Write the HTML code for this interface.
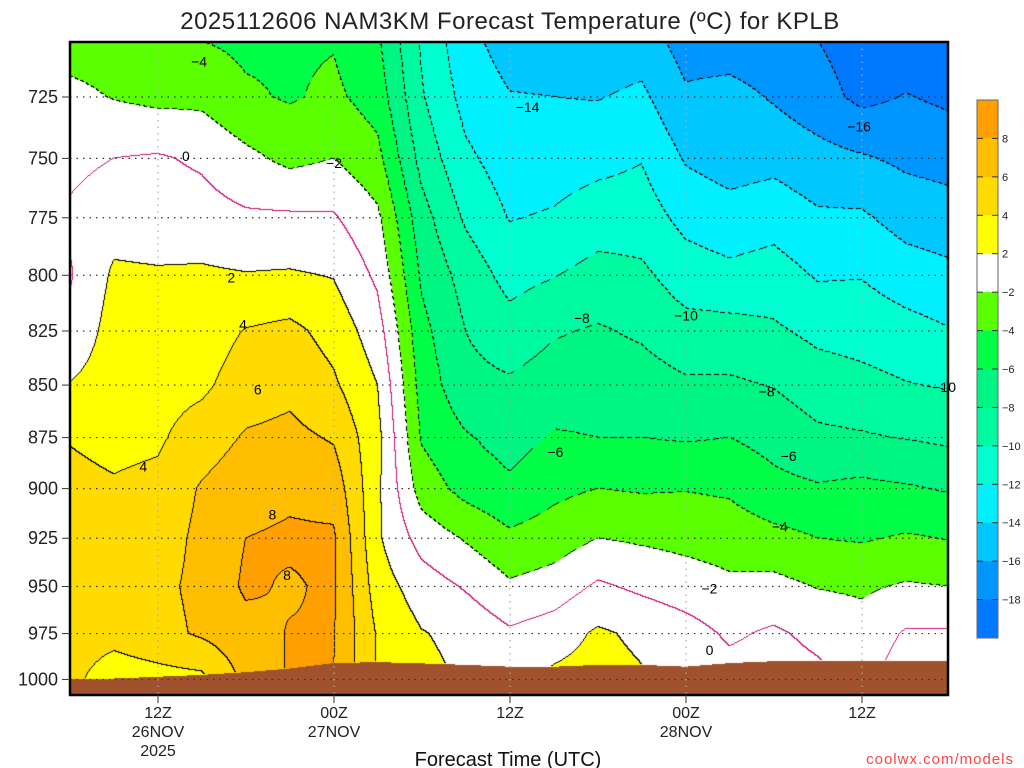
<!DOCTYPE html>
<html><head><meta charset="utf-8">
<style>
html,body{margin:0;padding:0;background:#fff;}
#wrap{position:relative;width:1024px;height:768px;overflow:hidden;font-family:"Liberation Sans",sans-serif;}
#plot{position:absolute;left:70px;top:42px;}
svg{position:absolute;left:0;top:0;}
</style></head>
<body>
<div id="wrap">
<canvas id="plot" width="878" height="653"></canvas>
<svg id="ov" width="1024" height="768"></svg>
</div>
<script>
// ---- data ----
const hours = [0,3,6,9,12,15,18,21,24,27,30,33,36,39,42,45,48,51,54,57,60];
const levels = [700,725,750,775,800,825,850,875,900,925,950,975,1000];
const t700 = [-3,-3,-3.3,-4.2,-4.5,-4.3,-4.2,-5.8,-10.3,-13.5,-15,-15.2,-15.4,-15.2,-17,-17.3,-17.5,-18.1,-19,-19.5,-19.8];
const t725 = [-1.5,-2.1,-2.5,-2.5,-3.7,-4.2,-3.6,-4.9,-9.8,-12.7,-13.9,-14,-14.1,-13.6,-15.7,-15.3,-16.2,-17.2,-18.5,-17.9,-18.4];
const t750 = [-0.5,0,0.2,-0.3,-1.5,-2.5,-2,-3.4,-8.7,-11.6,-13,-12.9,-12.6,-12.1,-14.2,-14.9,-14.6,-15.3,-15.8,-16.4,-16.7];
const t775 = [0.3,1.2,1,0.8,0.3,0.3,0.2,-1.6,-7.2,-10.3,-12.1,-11.8,-11,-11,-12.6,-13.2,-12.8,-13.7,-13.7,-14.8,-15.2];
const t800 = [-0.2,2.3,2.2,2.3,2.1,2.2,1.9,-0.4,-6.3,-8.8,-10.7,-10.1,-9.3,-9.6,-11,-11.5,-11.1,-12.2,-12.1,-13,-13.5];
const t825 = [0.5,2.8,3,3,4.1,4.5,3.3,0.9,-5.4,-8,-9.2,-8.2,-7.8,-8.3,-9.3,-9.3,-9.7,-10.5,-10.8,-11.3,-11.9];
const t850 = [2.1,3,3.3,3.6,5,5.5,4.3,2,-4.8,-7.4,-7.7,-7,-7,-7.1,-7.7,-7.7,-8.1,-9,-9.4,-9.9,-10.2];
const t875 = [3.9,3.5,3.7,5,6.2,6.5,5.8,2.6,-4.2,-5.8,-6.8,-5.8,-6,-6,-6.2,-6,-6.7,-7.6,-7.8,-8.1,-8.4];
const t900 = [4.5,4.2,4.5,6.2,7.2,7.6,7.2,2.4,-2.9,-4.7,-5.6,-4.5,-4,-4.2,-4.1,-4.3,-5.4,-5.8,-5.5,-5.8,-6.2];
const t925 = [5,4.8,5,6.5,8,8.3,8.3,2.3,-0.8,-2.2,-3.6,-3,-2,-2.3,-2.6,-2.9,-3.4,-4,-4.2,-3.8,-4.1];
const t950 = [5,5,5.5,6.5,8.3,7.8,8.3,3,1,-0.2,-1.7,-1.1,0.3,-0.4,-1,-1.6,-1.4,-2.1,-2.3,-1.8,-2];
const t975 = [4.8,4.6,5.3,6.3,7.3,8.1,8.1,3.8,2.1,1.5,0.3,1,2.3,1.6,0.8,-0.3,0.3,-0.5,-1.2,0.2,0.2];
const t1000 = [4.5,3,3.3,3.5,6.5,8.2,8,3.8,2.5,1.8,1,2.5,2.8,2.2,1.5,0.8,1,0.5,-0.5,1,0.8];
const surfacePressure = [1000,999.5,998.5,997.5,996,994,991,990.5,991.2,992,993,993,992,992,993,991,990,990,990,990,990];
const yTickLabels = ["725","750","775","800","825","850","875","900","925","950","975","1000"];
const yTickValues = [725,750,775,800,825,850,875,900,925,950,975,1000];
const xTickHours = [6,18,30,42,54];
const xTickLine1 = ["12Z","00Z","12Z","00Z","12Z"];
const xTickLine2 = ["26NOV","27NOV","","28NOV",""];
const xTickLine3 = ["2025","","","",""];
const labelText = ["-4","0","-2","2","4","6","4","8","8","-14","-16","-8","-10","-8","-10","-6","-6","-4","-2","0"];
const labelHour = [8.8,7.9,18,11.0,11.8,12.8,5.0,13.8,14.8,31.2,53.8,34.9,42,47.5,59.6,33.1,49,48.4,43.6,43.6];
const labelP = [711,749,752,801,822,852,889,913,944,729,737,819,818,853,851,882,884,919,951,984];
const cbValues = ["8","6","4","2","-2","-4","-6","-8","-10","-12","-14","-16","-18"];
const grid = [t700,t725,t750,t775,t800,t825,t850,t875,t900,t925,t950,t975,t1000];

// ---- scales ----
const X0 = 70, X1 = 948, Y0 = 42, Y1 = 695;
const pxPerHour = 176/12;
function xOf(h){ return X0 + h*pxPerHour; }
function yOf(p){ return 97 + Math.log(p/725)*1811.1; }
function pOfY(y){ return 725*Math.exp((y-97)/1811.1); }
// index = bin+10, bin = floor(T/2) clamped to [-10,4]
const colors = ["#0078FF","#0096FF","#00C8FF","#00F0FF","#00FFD0","#00FAA0","#00F582","#00FF46","#5AFF00","#FFFFFF","#FFFFFF","#FFFF00","#FFDB00","#FFBF00","#FFA000"];
function binOf(T){ let b=Math.floor(T/2); if(b<-10)b=-10; if(b>4)b=4; return b; }
function colorOf(b){ return colors[b+10]; }
function hexRGB(h){ return [parseInt(h.substr(1,2),16),parseInt(h.substr(3,2),16),parseInt(h.substr(5,2),16)]; }

function tempAt(h,p){
  let c=h/3; if(c<0)c=0; if(c>20)c=20;
  let r=(p-700)/25; if(r<0)r=0; if(r>12)r=12;
  const c0=Math.min(19,Math.floor(c)), r0=Math.min(11,Math.floor(r));
  const fc=c-c0, fr=r-r0;
  const a=grid[r0][c0], b=grid[r0][c0+1], d=grid[r0+1][c0], e=grid[r0+1][c0+1];
  return (a*(1-fc)+b*fc)*(1-fr)+(d*(1-fc)+e*fc)*fr;
}
function psAt(h){
  let c=h/3; if(c<0)c=0; if(c>20)c=20;
  const c0=Math.min(19,Math.floor(c)), f=c-c0;
  return surfacePressure[c0]*(1-f)+surfacePressure[c0+1]*f;
}

// ---- draw field ----
(function(){
  const cv=document.getElementById('plot'); const ctx=cv.getContext('2d');
  const W=cv.width,H=cv.height; const img=ctx.createImageData(W,H); const D=img.data;
  const T=new Float32Array(W*H), B=new Int8Array(W*H), G=new Uint8Array(W*H);
  const rgb=colors.map(hexRGB); const brown=hexRGB("#A0522D");
  for(let y=0;y<H;y++){
    const p=pOfY(y+Y0+0.5);
    for(let x=0;x<W;x++){
      const h=(x+0.5)/pxPerHour;
      const i=y*W+x;
      const t=tempAt(h,p); T[i]=t; B[i]=Math.floor(t/2);
      G[i]= p>psAt(h)?1:0;
    }
  }
  for(let y=0;y<H;y++)for(let x=0;x<W;x++){
    const i=y*W+x; let c;
    if(G[i]) c=brown; else c=rgb[binOf(T[i])+10];
    D[i*4]=c[0];D[i*4+1]=c[1];D[i*4+2]=c[2];D[i*4+3]=255;
  }
  // contour lines
  for(let y=0;y<H-1;y++)for(let x=0;x<W-1;x++){
    const i=y*W+x; if(G[i]||G[i+W]||G[i+1])continue;
    const b=B[i], br=B[i+1], bd=B[i+W];
    if(b===br && b===bd)continue;
    const other = (b!==br)?br:bd;
    const lvl = Math.max(b,other)*2;
    let col;
    if(lvl===0) col=[204,17,119];
    else { if(lvl<0 && ((x+y)%8)>=5) continue; col=[0,0,0]; }
    D[i*4]=col[0];D[i*4+1]=col[1];D[i*4+2]=col[2];
  }
  ctx.putImageData(img,0,0);
})();

// ---- overlay ----
const NS="http://www.w3.org/2000/svg";
const svg=document.getElementById('ov');
function mk(tag,attrs,parent){ const e=document.createElementNS(NS,tag); for(const k in attrs)e.setAttribute(k,attrs[k]); (parent||svg).appendChild(e); return e; }

// gridlines
const gGrid=mk('g',{});


yTickValues.forEach(v=>{
  const l=mk('line',{x1:X0,x2:X1,y1:yOf(v),y2:yOf(v),stroke:'#333','stroke-width':1.2,'stroke-dasharray':'1.5,5'},gGrid);
  
  
});
xTickHours.forEach(h=>{
  const l=mk('line',{x1:xOf(h),x2:xOf(h),y1:Y0,y2:Y1,stroke:'#aaa','stroke-width':1.2,'stroke-dasharray':'1.5,5'},gGrid);
  
  
});

// contour labels
const gLab=mk('g',{});


labelText.forEach((s,k)=>{
  const t=mk('text',{x:xOf(labelHour[k]),y:yOf(labelP[k])+5,'font-size':14,'text-anchor':'middle',fill:'#000'},gLab);
  t.textContent=s.replace('-','\u2212');
  
  
});

// frame
const fr=mk('rect',{x:X0,y:Y0,width:X1-X0,height:Y1-Y0,fill:'none',stroke:'#000','stroke-width':2.5});



// y axis
const gY=mk('g',{});


yTickValues.forEach((v,k)=>{
  const tk=mk('line',{x1:X0-8,x2:X0,y1:yOf(v),y2:yOf(v),stroke:'#333','stroke-width':1},gY);
  
  
  const t=mk('text',{x:X0-12,y:yOf(v)+6,'font-size':18,'text-anchor':'end',fill:'#222'},gY);
  t.textContent=yTickLabels[k];
  
  
});

// x axis
const gX=mk('g',{});


xTickHours.forEach((h,k)=>{
  const tk=mk('line',{x1:xOf(h),x2:xOf(h),y1:Y1,y2:Y1+8,stroke:'#333','stroke-width':1},gX);
  
  
  [xTickLine1[k],xTickLine2[k],xTickLine3[k]].forEach((s,j)=>{
    if(!s)return;
    const t=mk('text',{x:xOf(h),y:718+j*19,'font-size':16,'text-anchor':'middle',fill:'#222'},gX);
    t.textContent=s;
    
    
  });
});

// colorbar
const gCb=mk('g',{});


const cbTop=100, cbH=538, segH=cbH/14;
for(let s=0;s<14;s++){
  let fill;
  if(s<4) fill=colorOf(4-s);
  else if(s===4) fill='#FFFFFF';
  else fill=colorOf(-(s-3));
  const r=mk('rect',{x:977,y:cbTop+s*segH,width:21,height:segH+0.5,fill:fill},gCb);
  
  
}
mk('rect',{x:977,y:cbTop,width:21,height:cbH,fill:'none',stroke:'#666','stroke-width':1},gCb);
cbValues.forEach((v,k)=>{
  const y=cbTop+(k+1)*segH;
  mk('line',{x1:977,x2:983,y1:y,y2:y,stroke:'#333'},gCb);
  mk('line',{x1:992,x2:998,y1:y,y2:y,stroke:'#333'},gCb);
  const t=mk('text',{x:1002,y:y+4,'font-size':11,fill:'#222'},gCb);
  t.textContent=v.replace('-','\u2212');
  
  
});

// titles
const ti=mk('text',{x:510,y:29,'font-size':24,'text-anchor':'middle',fill:'#222','letter-spacing':'0.5'});
ti.textContent='2025112606 NAM3KM Forecast Temperature (\u00BAC) for KPLB';


const xt=mk('text',{x:508,y:766,'font-size':20,'text-anchor':'middle',fill:'#111'});
xt.textContent='Forecast Time (UTC)';


const cr=mk('text',{x:1014,y:764,'font-size':15,'text-anchor':'end',fill:'#FF4444','letter-spacing':'1'});
cr.textContent='coolwx.com/models';


</script>
</body></html>
